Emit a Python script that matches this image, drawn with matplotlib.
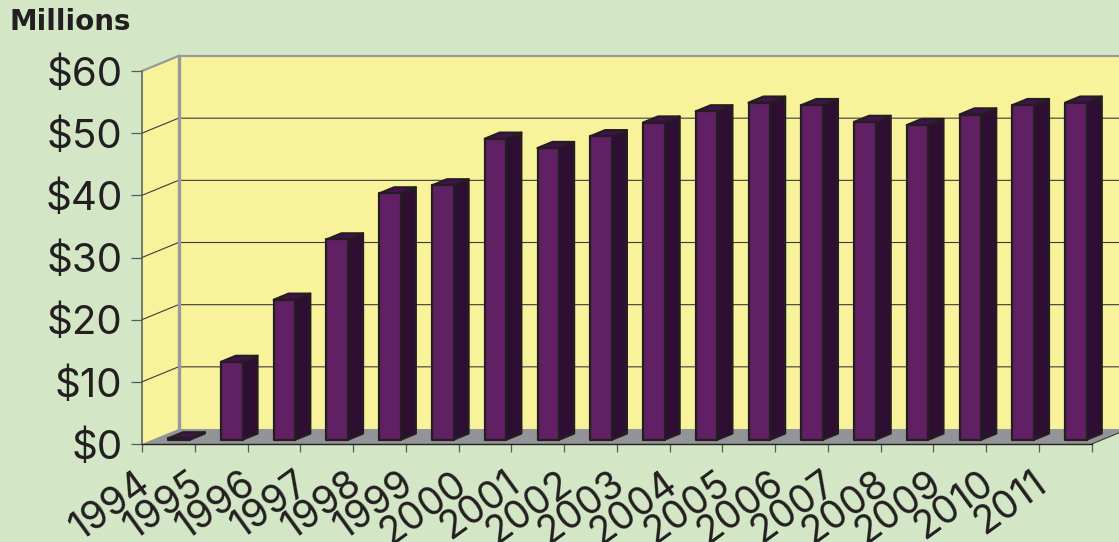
import matplotlib
matplotlib.use("Agg")
import matplotlib.pyplot as plt
from matplotlib.patches import Polygon

years = ["1994", "1995", "1996", "1997", "1998", "1999", "2000", "2001", "2002",
         "2003", "2004", "2005", "2006", "2007", "2008", "2009", "2010", "2011"]
values = [0.2, 12.5, 22.5, 32.2, 39.6, 40.9, 48.4, 46.9, 48.8,
          51.0, 52.8, 54.2, 53.8, 51.1, 50.6, 52.3, 53.8, 54.2]
y_ticks = [0, 10, 20, 30, 40, 50, 60]
y_labels = ["$0", "$10", "$20", "$30", "$40", "$50", "$60"]

BG = "#D3E7C6"
WALL = "#F8F39B"
FLOOR = "#929497"
FRONT = "#612063"
SIDE = "#2E0F33"
TOP = "#45104F"
EDGE = "#231F20"

W, H = 1119, 542

# 3d look: how far the back wall is shifted, in data units
DX = 36.5 / 52.75
DY = 15 / 6.22
BAR_W = 0.41


def skew(x, y, d):
    return (x + d * DX, y + d * DY)


def poly(ax, pts, color, edge="none", lw=0, z=1):
    ax.add_patch(Polygon(pts, closed=True, facecolor=color, edgecolor=edge,
                         linewidth=lw, zorder=z, clip_on=False, joinstyle="round"))


fig = plt.figure(figsize=(W / 100, H / 100), dpi=100, facecolor=BG)
ax = fig.add_axes([142 / W, 1 - 444 / H, (1091.75 - 142) / W, (444 - 71) / H])
ax.set_xlim(0, len(years))
ax.set_ylim(0, 60)
ax.patch.set_visible(False)

n = len(years)
# walls and floor
poly(ax, [skew(0, 0, 1), skew(n + 1, 0, 1), skew(n + 1, 60, 1), skew(0, 60, 1)], WALL, z=1)
poly(ax, [skew(0, 0, 0), skew(0, 0, 1), skew(0, 60, 1), skew(0, 60, 0)], WALL, z=1)
poly(ax, [skew(0, 0, 0), skew(n, 0, 0), skew(n, 0, 1), skew(n + 1, 0, 1), skew(0, 0, 1)], FLOOR, z=1.5)

# gridlines run along the side wall and then the back wall
for v in y_ticks[1:-1]:
    xs, ys = zip(skew(0, v, 0), skew(0, v, 1), skew(n + 1, v, 1))
    ax.plot(xs, ys, color="#3A3A3C", lw=0.8, zorder=2, clip_on=False)

xs, ys = zip(skew(0, 60, 0), skew(0, 60, 1), skew(n + 1, 60, 1))
ax.plot(xs, ys, color="#98999B", lw=1.6, zorder=2, clip_on=False)
xs, ys = zip(skew(0, 0, 1), skew(0, 60, 1))
ax.plot(xs, ys, color="#98999B", lw=2.4, zorder=2, clip_on=False)
xs, ys = zip(skew(n, 0, 0), skew(n, 0, 1))
ax.plot(xs, ys, color="#3A3A3C", lw=0.8, zorder=2, clip_on=False)

# bars
d0, d1 = 0.29, 0.70
for i, v in enumerate(values):
    x0 = i + (1 - BAR_W) / 2
    x1 = x0 + BAR_W
    poly(ax, [skew(x1, 0, d0), skew(x1, 0, d1), skew(x1, v, d1), skew(x1, v, d0)],
         SIDE, EDGE, 1.6, z=3)
    poly(ax, [skew(x0, v, d0), skew(x1, v, d0), skew(x1, v, d1), skew(x0, v, d1)],
         TOP, EDGE, 1.6, z=3)
    poly(ax, [skew(x0, 0, d0), skew(x1, 0, d0), skew(x1, v, d0), skew(x0, v, d0)],
         FRONT, EDGE, 1.6, z=3.1)

for s in ["top", "right"]:
    ax.spines[s].set_visible(False)
ax.spines["left"].set_color("#58595B")
ax.spines["left"].set_linewidth(1.1)
ax.spines["left"].set_zorder(4)
ax.spines["bottom"].set_color("#231F20")
ax.spines["bottom"].set_linewidth(1.0)
ax.spines["bottom"].set_zorder(4)

ax.set_yticks(y_ticks)
ax.set_yticklabels(y_labels, fontsize=29, fontfamily="Inter", color="#231F20")
ax.tick_params(axis="y", length=8, width=0.9, color="#58595B", pad=6)
ax.set_xticks(range(n + 1))
ax.set_xticklabels([])
ax.tick_params(axis="x", length=6, width=0.9, color="#58595B")

# year labels hang off the tick at the left of each slot
for i, lab in enumerate(years):
    ax.annotate(lab, xy=(i, 0), xycoords=("data", "axes fraction"),
                xytext=(-5, -15), textcoords="offset points",
                rotation=36, rotation_mode="anchor", ha="right", va="top",
                fontsize=28, fontfamily="Inter", color="#231F20",
                annotation_clip=False)

fig.text(9 / W, 1 - 30 / H, "Millions", fontsize=20, fontweight="bold",
         fontfamily="DejaVu Sans", color="#231F20", ha="left", va="baseline")

fig.savefig("out.png", dpi=100, facecolor=BG)
